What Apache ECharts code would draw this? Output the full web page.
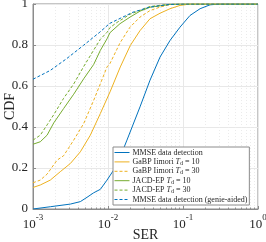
<!DOCTYPE html>
<html><head><meta charset="utf-8">
<script src="https://cdn.jsdelivr.net/npm/echarts@6/dist/echarts.min.js"></script>
<style>html,body{margin:0;padding:0;background:#fff}#c{width:266px;height:242px}</style>
</head><body><div id="c"></div>
<script>
// Series data: SER (x) and CDF (y)
const mmseSER = [0.001,0.0017,0.00315,0.00428,0.00525,0.00644,0.00791,0.0097,0.0119,0.01459,0.0179,0.0267,0.0363,0.0494,0.0671,0.0912,0.124,0.169,0.229,0.311,1];
const mmseCDF = [0.0,0.011,0.024,0.036,0.057,0.079,0.096,0.141,0.19,0.255,0.336,0.498,0.628,0.741,0.822,0.887,0.944,0.977,0.996,1.0,1.0];

const gabp10SER = [0.001,0.00125,0.0017,0.00231,0.00315,0.00428,0.00581,0.00791,0.01075,0.01459,0.01985,0.0267,0.0363,0.0494,0.0671,0.0912,0.124,1];
const gabp10CDF = [0.105,0.117,0.141,0.182,0.222,0.279,0.36,0.466,0.575,0.693,0.798,0.87,0.928,0.955,0.977,0.993,1.0,1.0];

const gabp30SER = [0.001,0.00125,0.00154,0.00209,0.00256,0.00349,0.00474,0.00644,0.00791,0.0097,0.01063,0.01318,0.01445,0.01965,0.0267,0.0363,0.0494,0.0671,0.1,1];
const gabp30CDF = [0.128,0.141,0.17,0.238,0.26,0.336,0.417,0.53,0.611,0.693,0.71,0.78,0.81,0.887,0.936,0.968,0.985,0.997,1.0,1.0];

const jacd10SER = [0.001,0.00125,0.00154,0.00189,0.00256,0.00349,0.00474,0.00644,0.00791,0.0097,0.01063,0.01445,0.01965,0.0267,0.0363,0.0671,0.1,1];
const jacd10CDF = [0.316,0.328,0.36,0.42,0.49,0.56,0.635,0.705,0.774,0.83,0.86,0.904,0.936,0.965,0.984,0.998,1.0,1.0];

const jacd30SER = [0.001,0.00125,0.00154,0.00189,0.00256,0.00349,0.00474,0.00644,0.00791,0.0097,0.01063,0.01318,0.01965,0.0363,0.0671,0.1,1];
const jacd30CDF = [0.336,0.36,0.41,0.46,0.54,0.61,0.695,0.775,0.828,0.862,0.885,0.91,0.95,0.988,0.999,1.0,1.0];

const genieSER = [0.001,0.0017,0.0028,0.0047,0.0078,0.0105,0.0215,0.0363,0.0671,0.1,1];
const genieCDF = [0.633,0.676,0.733,0.798,0.863,0.905,0.96,0.985,0.998,1.0,1.0];

const seriesNames = ['MMSE data detection','GaBP Iimori Td = 10','GaBP Iimori Td = 30','JACD-EP Td = 10','JACD-EP Td = 30','MMSE data detection (genie-aided)'];
const legendRich = ['MMSE data detection','GaBP Iimori {i|T}{s|d} = 10','GaBP Iimori {i|T}{s|d} = 30','JACD-EP {i|T}{s|d} = 10','JACD-EP {i|T}{s|d} = 30','MMSE data detection (genie-aided)'];
const xTicks = [0.001,0.01,0.1,1];
const yTicks = [0,0.2,0.4,0.6,0.8,1];

const zip = (a,b) => a.map((v,i)=>[v,b[i]]);
const blue='#0072BD', orange='#EDB120', green='#77AC30';
const font = 'Liberation Serif, DejaVu Serif, serif';
function mk(name, xs, ys, color, type){
  return {name, type:'line', data:zip(xs,ys), showSymbol:false, symbol:'none', animation:false,
    lineStyle:{color, width:1, type}, itemStyle:{color}};
}
const chart = echarts.init(document.getElementById('c'), null, {renderer:'canvas'});
chart.setOption({
  animation:false,
  textStyle:{fontFamily:font},
  grid:{left:33, right:8, top:4, bottom:33, containLabel:false, outerBoundsMode:'none', show:true, borderColor:'#8c8c8c', borderWidth:1, backgroundColor:'#fff'},
  xAxis:{type:'log', min:0.001, max:1, logBase:10,
    axisLine:{show:true, lineStyle:{color:'#8c8c8c', width:1}},
    axisTick:{show:true, inside:true, length:3, lineStyle:{color:'#8c8c8c'}},
    minorTick:{show:true, splitNumber:9, length:1.5, lineStyle:{color:'#8c8c8c'}},
    splitLine:{show:true, lineStyle:{color:'#e8e8e8', width:1}},
    minorSplitLine:{show:true, lineStyle:{color:'#ebebeb', width:1, type:[1,2]}},
    axisLabel:{margin:4, color:'#262626', fontFamily:font, verticalAlign:'top',
      formatter: v => '{b|10}{s|' + Math.round(Math.log10(v)) + '}',
      rich:{b:{fontSize:13, lineHeight:18, fontFamily:font, color:'#262626', verticalAlign:'bottom'}, s:{fontSize:9, lineHeight:9, fontFamily:font, color:'#262626', verticalAlign:'top'}}},
    name:'SER', nameLocation:'middle', nameGap:19, nameMoveOverlap:false, nameTextStyle:{fontSize:14, fontFamily:font, color:'#262626'}
  },
  yAxis:{type:'value', min:0, max:1, interval:0.2,
    axisLine:{show:true, lineStyle:{color:'#8c8c8c', width:1}},
    axisTick:{show:true, inside:true, length:3, lineStyle:{color:'#8c8c8c'}},
    splitLine:{show:true, lineStyle:{color:'#e8e8e8', width:1}},
    axisLabel:{margin:5, fontSize:13, color:'#262626', fontFamily:font, formatter: v => (v===0||v===1)? String(v) : v.toFixed(1)},
    name:'CDF', nameLocation:'middle', nameGap:16, nameMoveOverlap:false, nameTextStyle:{fontSize:14, fontFamily:font, color:'#262626'}
  },
  legend:{show:true, orient:'vertical', left:113, top:147, padding:[1,2,1,1], itemGap:0.4, itemWidth:15, itemHeight:8,
    backgroundColor:'#fff', borderColor:'#8c8c8c', borderWidth:1, borderRadius:0,
    itemStyle:{opacity:0}, lineStyle:{width:1},
    data:seriesNames,
    formatter: n => legendRich[seriesNames.indexOf(n)],
    textStyle:{fontSize:8, lineHeight:9, fontFamily:font, color:'#262626', padding:[0,0,0,-2],
      rich:{i:{fontSize:8, lineHeight:9, fontStyle:'italic', fontFamily:font, color:'#262626'}, s:{fontSize:6, lineHeight:9, fontFamily:font, color:'#262626', verticalAlign:'bottom', padding:[3,0,0,0]}}}
  },
  series:[
    mk(seriesNames[0], mmseSER, mmseCDF, blue, 'solid'),
    mk(seriesNames[1], gabp10SER, gabp10CDF, orange, 'solid'),
    mk(seriesNames[2], gabp30SER, gabp30CDF, orange, [3,2]),
    mk(seriesNames[3], jacd10SER, jacd10CDF, green, 'solid'),
    mk(seriesNames[4], jacd30SER, jacd30CDF, green, [3,2]),
    mk(seriesNames[5], genieSER, genieCDF, blue, [3,2])
  ]
});
</script></body></html>
